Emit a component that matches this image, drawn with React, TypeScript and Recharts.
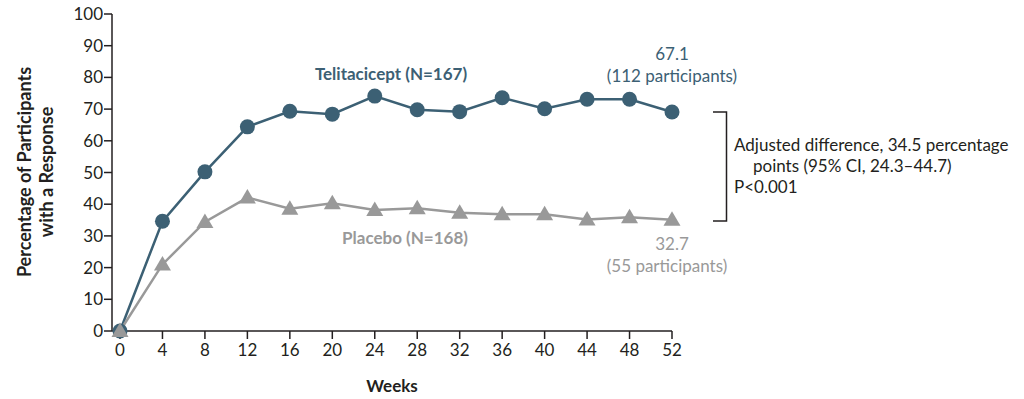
import { CartesianGrid, Customized, Line, LineChart, XAxis, YAxis } from "recharts";

const weeks = [0, 4, 8, 12, 16, 20, 24, 28, 32, 36, 40, 44, 48, 52];
const telitacicept = [0, 34.6, 50.2, 64.4, 69.3, 68.4, 74.1, 69.8, 69.2, 73.6, 70.1, 73.1, 73.1, 69.1];
const placebo = [0, 21.0, 34.4, 42.1, 38.6, 40.3, 38.2, 38.7, 37.3, 36.8, 36.8, 35.2, 35.9, 35.1];
const yTicks = [0, 10, 20, 30, 40, 50, 60, 70, 80, 90, 100];

const TEAL = "#3c6074";
const GRAY = "#999999";
const INK = "#231f20";
const FONT = "Lato, 'Open Sans', sans-serif";

const data = weeks.map((w, i) => ({ week: w, telitacicept: telitacicept[i], placebo: placebo[i] }));

const Triangle = (props: any) => {
  const { cx, cy } = props;
  if (cx == null || cy == null) return null;
  return <path d={`M${cx},${cy - 8.5} L${cx + 8.5},${cy + 6} L${cx - 8.5},${cy + 6} Z`} fill={GRAY} />;
};

const YLabel = () => (
  <g fontFamily={FONT} fontWeight={700} fontSize={18} fill={INK} textAnchor="middle">
    <text transform="translate(31,172) rotate(-90)">Percentage of Participants</text>
    <text transform="translate(53,172) rotate(-90)">with a Response</text>
  </g>
);

const Notes = () => (
  <g fontFamily={FONT} fontSize={17}>
    <text x={391} y={80} textAnchor="middle" fontWeight={700} fill={TEAL}>Telitacicept (N=167)</text>
    <text x={672} y={60} textAnchor="middle" fill={TEAL}>67.1</text>
    <text x={672} y={82} textAnchor="middle" fill={TEAL}>(112 participants)</text>
    <text x={405} y={244} textAnchor="middle" fontWeight={700} fill={GRAY}>Placebo (N=168)</text>
    <text x={672} y={250} textAnchor="middle" fill={GRAY}>32.7</text>
    <text x={667} y={272} textAnchor="middle" fill={GRAY}>(55 participants)</text>
    <path d="M713,112 H726.5 V221 H713" fill="none" stroke={INK} strokeWidth={1.5} />
    <text x={734} y={151} fill={INK}>Adjusted difference, 34.5 percentage</text>
    <text x={753} y={172} fill={INK}>points (95% CI, 24.3–44.7)</text>
    <text x={734} y={193} fill={INK}>P&lt;0.001</text>
  </g>
);

export default function App() {
  return (
    <div style={{ position: "absolute", left: 0, top: 0 }}>
      <LineChart width={1024} height={399} data={data} margin={{ top: 14, right: 352, bottom: 38, left: 0 }}>
        <CartesianGrid stroke="none" />
        <XAxis
          dataKey="week"
          type="number"
          domain={[0, 52]}
          ticks={weeks}
          padding={{ left: 8, right: 0 }}
          tickSize={8}
          tick={{ fontSize: 17, fill: INK, fontFamily: FONT }}
          tickMargin={5}
          axisLine={{ stroke: INK, strokeWidth: 1.5 }}
          tickLine={{ stroke: INK, strokeWidth: 1.5 }}
          label={{
            value: "Weeks",
            position: "insideBottom",
            offset: -31,
            fontSize: 17,
            fontWeight: 700,
            fill: INK,
            fontFamily: FONT,
          }}
        />
        <YAxis
          type="number"
          domain={[0, 100]}
          ticks={yTicks}
          width={112}
          tickSize={8}
          tickMargin={1}
          tick={{ fontSize: 17, fill: INK, fontFamily: FONT }}
          axisLine={{ stroke: INK, strokeWidth: 1.5 }}
          tickLine={{ stroke: INK, strokeWidth: 1.5 }}
        />
        <Line
          dataKey="telitacicept"
          stroke={TEAL}
          strokeWidth={2.5}
          dot={{ r: 7.5, fill: TEAL, stroke: "none" }}
          activeDot={false}
          isAnimationActive={false}
        />
        <Line
          dataKey="placebo"
          stroke={GRAY}
          strokeWidth={2.5}
          dot={<Triangle />}
          activeDot={false}
          isAnimationActive={false}
        />
        <Customized component={<YLabel />} />
        <Customized component={<Notes />} />
      </LineChart>
    </div>
  );
}
